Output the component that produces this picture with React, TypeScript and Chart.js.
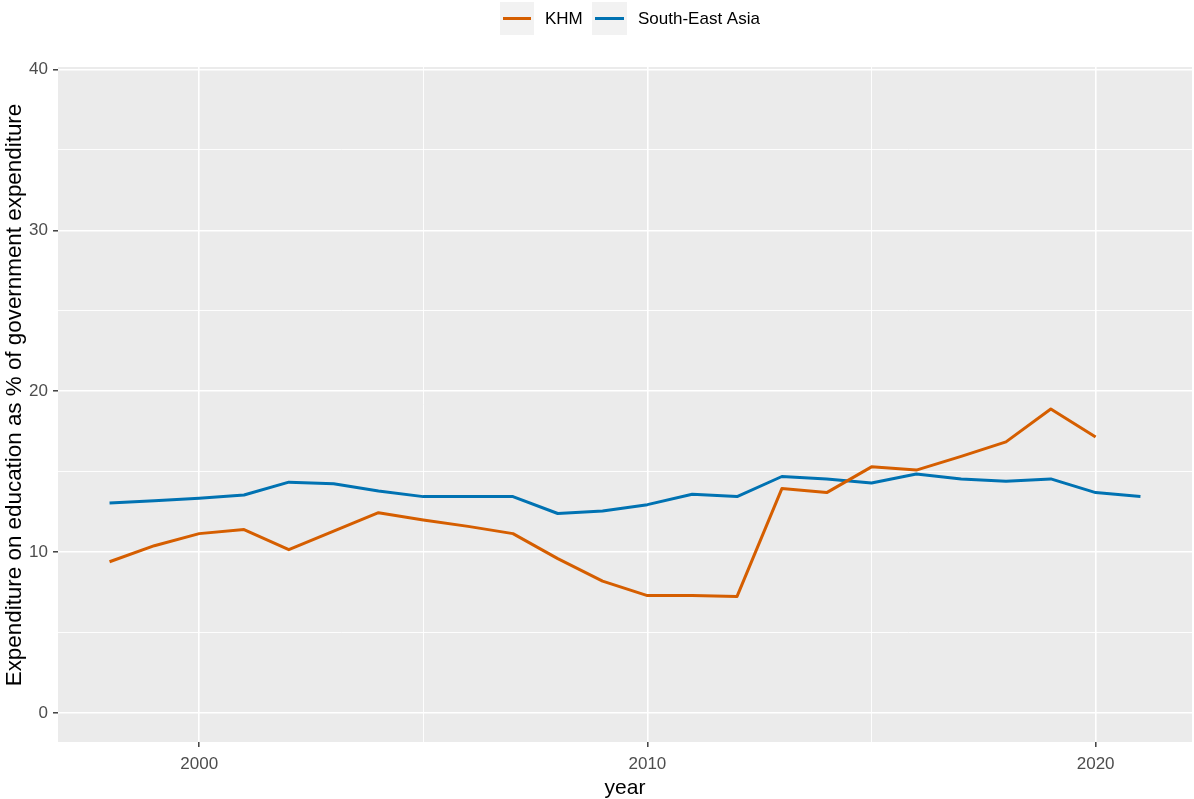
import React, { useEffect, useRef } from "react";
import { Chart, registerables } from "chart.js";

Chart.register(...registerables);

const khmYears = [1998, 1999, 2000, 2001, 2002, 2003, 2004, 2005, 2006, 2007, 2008, 2009, 2010, 2011, 2012, 2013, 2014, 2015, 2016, 2017, 2018, 2019, 2020];
const khmValues = [9.4, 10.4, 11.15, 11.4, 10.15, 11.3, 12.45, 12.0, 11.6, 11.15, 9.6, 8.2, 7.3, 7.3, 7.25, 13.95, 13.7, 15.3, 15.1, 15.95, 16.85, 18.9, 17.15];

const seaYears = [1998, 1999, 2000, 2001, 2002, 2003, 2004, 2005, 2006, 2007, 2008, 2009, 2010, 2011, 2012, 2013, 2014, 2015, 2016, 2017, 2018, 2019, 2020, 2021];
const seaValues = [13.05, 13.2, 13.35, 13.55, 14.35, 14.25, 13.8, 13.45, 13.45, 13.45, 12.4, 12.55, 12.95, 13.6, 13.45, 14.7, 14.55, 14.3, 14.85, 14.55, 14.4, 14.55, 13.7, 13.45];

const seriesLabels = ["KHM", "South-East Asia"];
const seriesColors = ["#D55E00", "#0072B2"];

const xMajorTicks = [2000, 2010, 2020];
const xMinorTicks = [2005, 2015];
const yMajorTicks = [0, 10, 20, 30, 40];
const yMinorTicks = [5, 15, 25, 35];

const xTitle = "year";
const yTitle = "Expenditure on education as % of government expenditure";

const FONT = "'Liberation Sans', Arial, sans-serif";

export default function App() {
  const ref = useRef<HTMLCanvasElement | null>(null);

  useEffect(() => {
    document.body.style.margin = "0";
    const canvas = ref.current;
    if (!canvas) return;

    const isMajor = (list: number[], v: number) => list.includes(v);

    const decor = {
      id: "decor",
      beforeDraw(chart: any) {
        const { ctx, chartArea } = chart;
        ctx.save();
        ctx.fillStyle = "#FFFFFF";
        ctx.fillRect(0, 0, chart.width, chart.height);
        ctx.fillStyle = "#EBEBEB";
        ctx.fillRect(chartArea.left, chartArea.top, chartArea.right - chartArea.left, chartArea.bottom - chartArea.top);
        ctx.restore();
      },
      afterDraw(chart: any) {
        const { ctx, chartArea } = chart;
        ctx.save();
        // axis titles
        ctx.fillStyle = "#000000";
        ctx.font = `21px ${FONT}`;
        ctx.textAlign = "center";
        ctx.textBaseline = "middle";
        ctx.fillText(xTitle, (chartArea.left + chartArea.right) / 2, 788);
        ctx.save();
        ctx.font = `22.4px ${FONT}`;
        ctx.translate(15, 395);
        ctx.rotate(-Math.PI / 2);
        ctx.fillText(yTitle, 0, 0);
        ctx.restore();

        // legend
        const boxes = [
          { x: 500, w: 34, tx: 545 },
          { x: 592, w: 35, tx: 638 },
        ];
        ctx.font = `17px ${FONT}`;
        ctx.textAlign = "left";
        boxes.forEach((b, i) => {
          ctx.fillStyle = "#F2F2F2";
          ctx.fillRect(b.x, 2, b.w, 33);
          ctx.strokeStyle = seriesColors[i];
          ctx.lineWidth = 3;
          ctx.beginPath();
          ctx.moveTo(b.x + 3, 18.5);
          ctx.lineTo(b.x + b.w - 3, 18.5);
          ctx.stroke();
          ctx.fillStyle = "#000000";
          ctx.fillText(seriesLabels[i], b.tx, 19);
        });
        ctx.restore();
      },
    };

    const chart = new Chart(canvas, {
      type: "line",
      data: {
        datasets: [
          {
            label: seriesLabels[0],
            data: khmYears.map((y, i) => ({ x: y, y: khmValues[i] })),
            borderColor: seriesColors[0],
            backgroundColor: seriesColors[0],
            borderWidth: 3,
            pointRadius: 0,
            tension: 0,
            borderJoinStyle: "round",
            borderCapStyle: "butt",
          },
          {
            label: seriesLabels[1],
            data: seaYears.map((y, i) => ({ x: y, y: seaValues[i] })),
            borderColor: seriesColors[1],
            backgroundColor: seriesColors[1],
            borderWidth: 3,
            pointRadius: 0,
            tension: 0,
            borderJoinStyle: "round",
            borderCapStyle: "butt",
          },
        ],
      },
      options: {
        animation: false,
        responsive: false,
        maintainAspectRatio: false,
        devicePixelRatio: 1,
        layout: { padding: { top: 67, right: 2, left: 0, bottom: 0 } },
        plugins: { legend: { display: false }, tooltip: { enabled: false } },
        scales: {
          x: {
            type: "linear",
            min: 1996.85,
            max: 2022.15,
            border: { display: false },
            afterBuildTicks: (scale: any) => {
              scale.ticks = [...xMajorTicks, ...xMinorTicks].sort((a, b) => a - b).map((v) => ({ value: v }));
            },
            afterFit: (scale: any) => {
              scale.height = 57;
            },
            grid: {
              color: "#FFFFFF",
              lineWidth: (c: any) => (isMajor(xMajorTicks, c.tick?.value) ? 1.6 : 0.9),
              tickColor: (c: any) => (isMajor(xMajorTicks, c.tick?.value) ? "#333333" : "rgba(0,0,0,0)"),
              tickLength: 5,
              tickWidth: 1.4,
            },
            ticks: {
              autoSkip: false,
              maxRotation: 0,
              padding: 7,
              color: "#4D4D4D",
              font: { family: FONT, size: 17 },
              callback: (v: any) => (xMajorTicks.includes(Number(v)) ? String(v) : ""),
            },
          },
          y: {
            type: "linear",
            min: -1.8,
            max: 40.15,
            border: { display: false },
            afterBuildTicks: (scale: any) => {
              scale.ticks = [...yMajorTicks, ...yMinorTicks].sort((a, b) => a - b).map((v) => ({ value: v }));
            },
            afterFit: (scale: any) => {
              scale.width = 58;
            },
            grid: {
              color: "#FFFFFF",
              lineWidth: (c: any) => (isMajor(yMajorTicks, c.tick?.value) ? 1.6 : 0.9),
              tickColor: (c: any) => (isMajor(yMajorTicks, c.tick?.value) ? "#333333" : "rgba(0,0,0,0)"),
              tickLength: 5,
              tickWidth: 1.4,
            },
            ticks: {
              autoSkip: false,
              padding: 5,
              color: "#4D4D4D",
              font: { family: FONT, size: 17 },
              callback: (v: any) => (yMajorTicks.includes(Number(v)) ? String(v) : ""),
            },
          },
        },
      },
      plugins: [decor],
    } as any);

    return () => chart.destroy();
  }, []);

  return (
    <div style={{ position: "absolute", left: 0, top: 0, width: 1194, height: 799 }}>
      <canvas ref={ref} width={1194} height={799} style={{ width: 1194, height: 799, display: "block" }} />
    </div>
  );
}
